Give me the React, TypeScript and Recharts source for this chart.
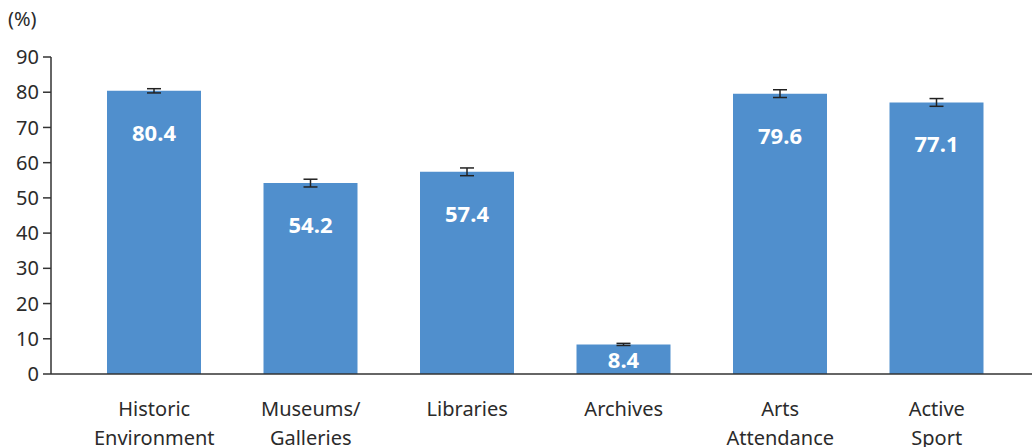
import { BarChart, Bar, XAxis, YAxis, ErrorBar, LabelList } from 'recharts'

const categories = ['Historic|Environment', 'Museums/|Galleries', 'Libraries', 'Archives', 'Arts|Attendance', 'Active|Sport']
const values = [80.4, 54.2, 57.4, 8.4, 79.6, 77.1]
const errors = [0.6, 1.1, 1.1, 0.3, 1.1, 1.1]
const yTicks = [0, 10, 20, 30, 40, 50, 60, 70, 80, 90]

const BAR_COLOR = '#508fcd'
const FONT = '"Noto Sans", "Open Sans", sans-serif'

const data = categories.map((name, i) => ({ name, value: values[i], err: errors[i] }))

function CategoryTick(props: any) {
  const { x, y, payload } = props
  const lines = String(payload.value).split('|')
  return (
    <text x={x} y={y + 34} textAnchor="middle" fill="#2b2b2b" fontSize={20} fontFamily={FONT}>
      {lines.map((l: string, i: number) => (
        <tspan key={i} x={x} dy={i === 0 ? 0 : 29}>{l}</tspan>
      ))}
    </text>
  )
}

function ValueLabel(props: any) {
  const { x, y, width, height, value } = props
  // tall bars carry the value near the top, short ones in the middle
  const cy = height > 80 ? y + 41 : y + height / 2
  return (
    <text x={x + width / 2} y={cy} textAnchor="middle" dominantBaseline="central" fill="#fff"
      fontSize={22} fontWeight={700} fontFamily={FONT}>
      {value.toFixed(1)}
    </text>
  )
}

export default function App() {
  return (
    <div style={{ position: 'absolute', left: 0, top: 0, width: 1032, height: 447, background: '#fff' }}>
      <div style={{ position: 'absolute', left: 8, top: 5, fontSize: 20, fontFamily: FONT, color: '#2b2b2b' }}>(%)</div>
      <BarChart width={1032} height={447} data={data} margin={{ top: 57, right: 0, bottom: 0, left: 0 }}>
        <XAxis
          dataKey="name"
          height={73}
          tickLine={false}
          axisLine={{ stroke: '#333', strokeWidth: 1.5 }}
          tick={<CategoryTick />}
          interval={0}
          padding={{ left: 25, right: 17 }}
        />
        <YAxis
          width={51}
          domain={[0, 90]}
          ticks={yTicks}
          interval={0}
          tickSize={8}
          tickLine={{ stroke: '#333', strokeWidth: 1.5 }}
          axisLine={{ stroke: '#333', strokeWidth: 1.5 }}
          tick={{ fill: '#2b2b2b', fontSize: 20, fontFamily: FONT }}
          tickMargin={4}
        />
        <Bar dataKey="value" fill={BAR_COLOR} barSize={94} isAnimationActive={false}>
          <LabelList dataKey="value" content={<ValueLabel />} />
          <ErrorBar dataKey="err" width={7} stroke="#222" strokeWidth={1.5} isAnimationActive={false} />
        </Bar>
      </BarChart>
    </div>
  )
}
